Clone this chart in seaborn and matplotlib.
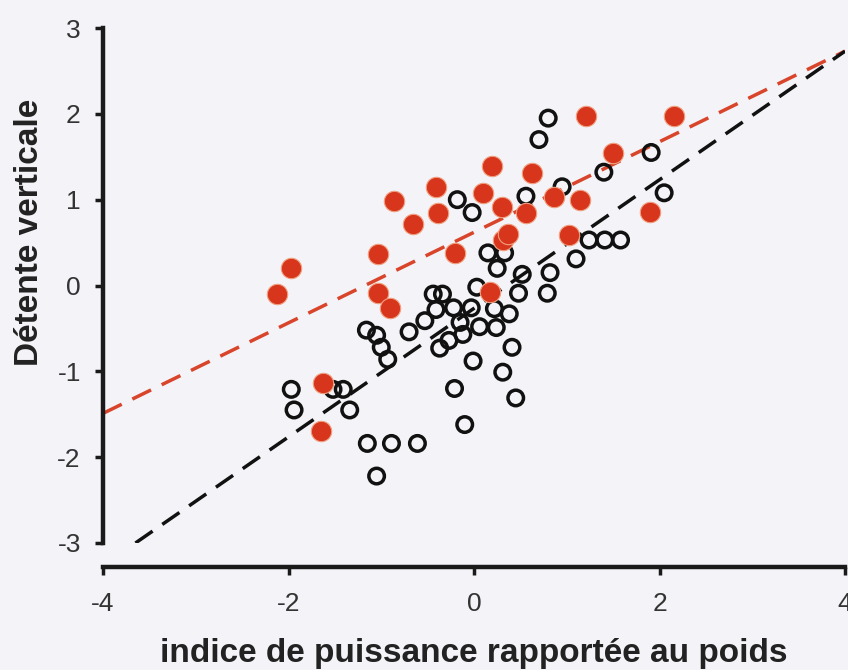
import matplotlib
matplotlib.use("Agg")
import matplotlib.pyplot as plt
import seaborn as sns
import pandas as pd

# Red (filled) group
red_x = [-2.12, -1.97, -1.63, -1.65, -1.03, -1.03, -0.91, -0.86, -0.66, -0.41,
         -0.39, -0.20, 0.10, 0.19, 0.17, 0.30, 0.31, 0.37, 0.56, 0.62,
         0.86, 1.02, 1.14, 1.21, 1.50, 1.90, 2.16]
red_y = [-0.10, 0.20, -1.14, -1.69, 0.37, -0.09, -0.26, 0.99, 0.72, 1.15,
         0.85, 0.38, 1.08, 1.39, -0.08, 0.91, 0.53, 0.60, 0.85, 1.31,
         1.03, 0.59, 1.00, 1.97, 1.54, 0.86, 1.97]

# Black (open) group
black_x = [0.80, 0.70, -0.18, -0.02, 0.56, 0.95, 1.40, 1.91, 2.05, 1.24,
           1.41, 1.58, 1.10, 0.15, 0.33, 0.25, 0.52, 0.82, 0.03, 0.48,
           0.79, -0.44, -0.34, -0.41, -0.22, -0.03, 0.22, 0.38, -0.53, -0.15,
           0.06, 0.24, -0.12, -0.27, -0.37, 0.41, -0.01, 0.31, -0.21, 0.45,
           -0.10, -1.16, -1.05, -1.00, -0.93, -0.70, -1.97, -1.94, -1.52, -1.41,
           -1.34, -1.15, -0.89, -0.61, -1.05]
black_y = [1.95, 1.70, 1.00, 0.85, 1.04, 1.15, 1.32, 1.55, 1.08, 0.53,
           0.53, 0.53, 0.31, 0.38, 0.38, 0.20, 0.13, 0.15, -0.02, -0.09,
           -0.09, -0.10, -0.10, -0.28, -0.26, -0.26, -0.27, -0.33, -0.41, -0.43,
           -0.48, -0.49, -0.57, -0.64, -0.73, -0.72, -0.88, -1.01, -1.20, -1.31,
           -1.62, -0.52, -0.58, -0.72, -0.86, -0.54, -1.21, -1.45, -1.21, -1.21,
           -1.45, -1.84, -1.84, -1.84, -2.22]

# Fitted lines (endpoints)
red_line_x = [-4.0, 4.0]
red_line_y = [-1.49, 2.73]
black_line_x = [-3.65, 4.0]
black_line_y = [-3.0, 2.73]

x_ticks = [-4, -2, 0, 2, 4]
y_ticks = [-3, -2, -1, 0, 1, 2, 3]
x_label = "indice de puissance rapportée au poids"
y_label = "Détente verticale"

sns.set_theme(style="white")
plt.rcParams['font.family'] = ['Liberation Sans', 'DejaVu Sans']

bg = "#f3f3f8"
red = "#d8361c"
fig = plt.figure(figsize=(8.48, 6.70), dpi=100, facecolor=bg)
ax = fig.add_axes([103/848, (670-543)/670, (845-103)/848, (543-28)/670])
ax.set_facecolor(bg)

sns.lineplot(x=red_line_x, y=red_line_y, ax=ax, color="#d8452a", lw=2.5,
             linestyle=(0, (6, 3.4)), zorder=1)
sns.lineplot(x=black_line_x, y=black_line_y, ax=ax, color="#111111", lw=2.5,
             linestyle=(0, (6, 3.4)), zorder=1)

df_b = pd.DataFrame({"x": black_x, "y": black_y})
df_r = pd.DataFrame({"x": red_x, "y": red_y})
sns.scatterplot(data=df_b, x="x", y="y", ax=ax, s=125, facecolor="none",
                edgecolor="#111111", linewidth=2.5, zorder=3)
sns.scatterplot(data=df_r, x="x", y="y", ax=ax, s=215, color=red,
                edgecolor="#f0a080", linewidth=0.8, zorder=4)

ax.set_xlim(-4, 4)
ax.set_ylim(-3, 3)
ax.set_xticks(x_ticks)
ax.set_yticks(y_ticks)
ax.set_xticklabels([str(t) for t in x_ticks])
ax.set_yticklabels([str(t) for t in y_ticks])

for s in ["top", "right"]:
    ax.spines[s].set_visible(False)
ax.spines["left"].set_linewidth(3.2)
ax.spines["bottom"].set_linewidth(3.2)
ax.spines["left"].set_color("#1a1a1a")
ax.spines["bottom"].set_color("#1a1a1a")
ax.spines["bottom"].set_position(("outward", 17))
ax.spines["left"].set_bounds(-3, 3)

ax.tick_params(axis="both", which="major", direction="out", length=6, width=2.5,
               color="#1a1a1a", labelsize=19, labelcolor="#333333",
               bottom=True, left=True)
ax.tick_params(axis="x", pad=12)
ax.tick_params(axis="y", pad=10)

ax.set_xlabel(x_label, fontsize=24, fontweight="bold", color="#222222", labelpad=16)
ax.set_ylabel(y_label, fontsize=24, fontweight="bold", color="#222222")
ax.yaxis.set_label_coords(-0.078, 0.604)

fig.savefig("out.png", dpi=100, facecolor=bg)
